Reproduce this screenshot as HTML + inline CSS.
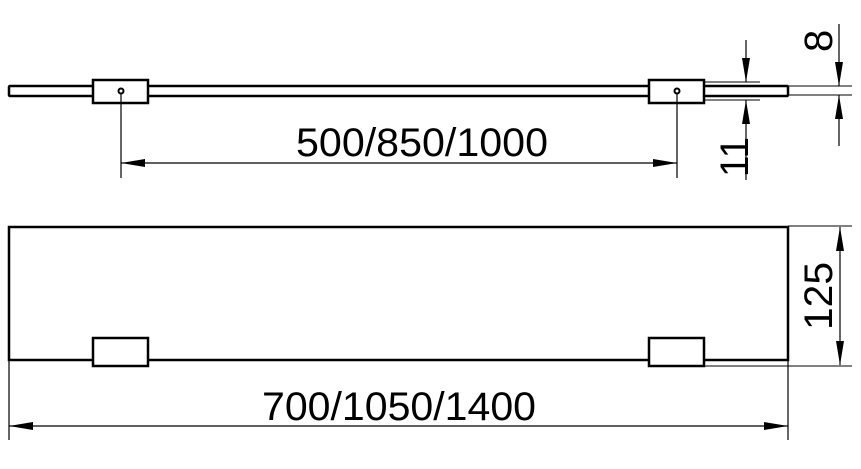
<!DOCTYPE html>
<html><head><style>body{margin:0;background:#fff}svg{display:block}</style></head><body>
<svg width="861" height="469" viewBox="0 0 861 469" xmlns="http://www.w3.org/2000/svg" font-family="Liberation Sans, sans-serif">
<defs>
<marker id="a" viewBox="0 0 24 8" refX="24" refY="4" markerWidth="24" markerHeight="8" markerUnits="userSpaceOnUse" orient="auto"><path d="M0,0L24,4L0,8z" fill="#000"/></marker>
</defs>
<g fill="none" stroke="#000">
<rect x="9" y="86" width="779" height="10" rx="1" stroke-width="2.5" fill="#fff"/>
<rect x="93" y="80" width="55" height="23" stroke-width="2.5" fill="#fff"/>
<rect x="649" y="80" width="55" height="23" stroke-width="2.5" fill="#fff"/>
<circle cx="121" cy="91" r="2.5" stroke-width="2"/>
<circle cx="677" cy="91" r="2.5" stroke-width="2"/>
<line x1="121" y1="93" x2="121" y2="178" stroke-width="1.2"/>
<line x1="677" y1="93" x2="677" y2="178" stroke-width="1.2"/>
<!-- 11 -->
<line x1="704" y1="82" x2="760" y2="82" stroke-width="1"/>
<line x1="704" y1="100" x2="760" y2="100" stroke-width="1"/>
<line x1="746" y1="40" x2="746" y2="82" stroke-width="1.2" marker-end="url(#a)"/>
<line x1="746" y1="180" x2="746" y2="100" stroke-width="1.2" marker-end="url(#a)"/>
<!-- 8 -->
<line x1="788" y1="86" x2="852" y2="86" stroke-width="1"/>
<line x1="788" y1="95" x2="852" y2="95" stroke-width="1"/>
<line x1="839" y1="24" x2="839" y2="86" stroke-width="1.2" marker-end="url(#a)"/>
<line x1="839" y1="146" x2="839" y2="95" stroke-width="1.2" marker-end="url(#a)"/>
<!-- front view -->
<rect x="9" y="227" width="779" height="133" stroke-width="2.5"/>
<rect x="93" y="338" width="55" height="28" stroke-width="2.5" fill="#fff"/>
<rect x="649" y="338" width="55" height="28" stroke-width="2.5" fill="#fff"/>
<line x1="704" y1="366" x2="852" y2="366" stroke-width="1"/>
<line x1="788" y1="226" x2="852" y2="226" stroke-width="1"/>
<line x1="840" y1="296" x2="840" y2="227" stroke-width="1.2" marker-end="url(#a)"/>
<line x1="840" y1="296" x2="840" y2="365" stroke-width="1.2" marker-end="url(#a)"/>
<line x1="9" y1="360" x2="9" y2="440" stroke-width="1.2"/>
<line x1="788" y1="360" x2="788" y2="440" stroke-width="1.2"/>
<line x1="400" y1="426" x2="9" y2="426" stroke-width="1.2" marker-end="url(#a)"/>
<line x1="400" y1="426" x2="788" y2="426" stroke-width="1.2" marker-end="url(#a)"/>
<line x1="400" y1="163" x2="121" y2="163" stroke-width="1.2" marker-end="url(#a)"/>
<line x1="400" y1="163" x2="677" y2="163" stroke-width="1.2" marker-end="url(#a)"/>
</g>
<g fill="#000" font-size="40">
<text x="296" y="156" textLength="252" lengthAdjust="spacingAndGlyphs">500/850/1000</text>
<text x="262" y="420" textLength="274" lengthAdjust="spacingAndGlyphs">700/1050/1400</text>
<text transform="translate(748,177) rotate(-90)" textLength="40" lengthAdjust="spacingAndGlyphs">11</text>
<text transform="translate(832,52) rotate(-90)">8</text>
<text transform="translate(832,330) rotate(-90)" textLength="68" lengthAdjust="spacingAndGlyphs">125</text>
</g>
</svg>
</body></html>
